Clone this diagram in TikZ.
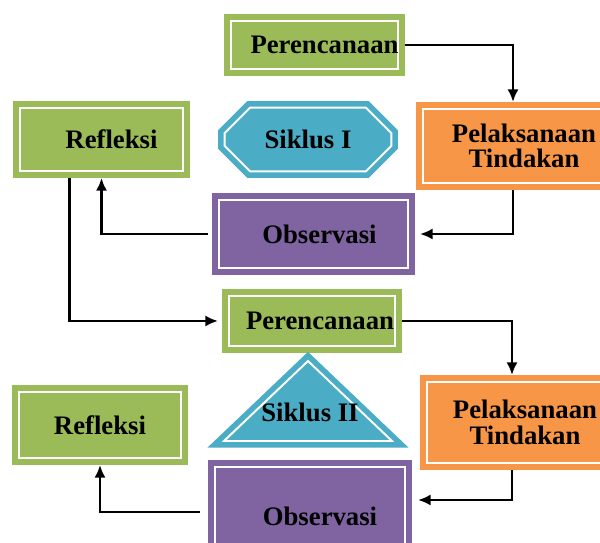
\documentclass[tikz,border=0pt]{standalone}
\usepackage{fontspec}
\setmainfont{Liberation Serif}
\usetikzlibrary{arrows.meta,shapes.misc}
\definecolor{hijau}{HTML}{9BBB59}
\definecolor{oranye}{HTML}{F79646}
\definecolor{ungu}{HTML}{8064A2}
\definecolor{biru}{HTML}{4BACC6}

\begin{document}
\begin{tikzpicture}[x=0.025cm,y=-0.025cm,
    kotak/.style={fill=#1,draw=#1,line width=4pt,double=white,double distance=1.4pt,
      outer sep=4.7pt,inner sep=0pt,align=center,font=\fontsize{19}{18}\selectfont\bfseries},
    >={Latex[length=3.2mm,width=2.8mm]}]
            \clip (0,0) rectangle (600,543);
            \node[kotak=hijau,minimum width=4.14cm,minimum height=1.215cm] (per1) at (314.5,45) {\hspace*{0.5cm}Perencanaan};
            \node[kotak=hijau,minimum width=4.09cm,minimum height=1.59cm] (ref1) at (101.5,139.5) {\hspace*{0.5cm}Refleksi};
            \node[kotak=biru,chamfered rectangle,chamfered rectangle xsep=0.4cm,chamfered rectangle ysep=0.4cm,
              minimum width=4.165cm,minimum height=1.59cm] (sik1) at (308,139.5) {Siklus I};
            \node[kotak=oranye,minimum width=5.065cm,minimum height=1.865cm] (pel1) at (524,146) {Pelaksanaan\\Tindakan};
            \node[kotak=ungu,minimum width=4.74cm,minimum height=1.715cm] (obs1) at (313.5,234) {\hspace*{0.3cm}Observasi};
            \node[kotak=hijau,minimum width=4.165cm,minimum height=1.265cm] (per2) at (312,321) {\hspace*{0.4cm}Perencanaan};
            \node[kotak=hijau,minimum width=4.065cm,minimum height=1.665cm] (ref2) at (100,425) {Refleksi};
            \node[kotak=oranye,minimum width=4.915cm,minimum height=2.04cm] (pel2) at (525,422.5) {Pelaksanaan\\Tindakan};
            \node[kotak=ungu,minimum width=4.765cm,minimum height=2.465cm] (obs2) at (310,516) {\hspace*{0.5cm}Observasi};
            \draw[fill=biru,draw=biru,line width=4pt,double=white,double distance=1.4pt,line join=miter]
              (308,361) -- (392,441) -- (224,441) -- cycle;
            \node[font=\fontsize{19}{18}\selectfont\bfseries] (sik2) at (310,412) {Siklus II};
            \draw[->,line width=2pt] (per1.east) -| ([xshift=-0.275cm]pel1.north);
            \draw[->,line width=2pt] ([xshift=-0.275cm]pel1.south) |- ([xshift=0.125cm]obs1.east);
            \draw[->,line width=2pt] ([xshift=-0.1cm]obs1.west) -| (ref1.south);
            \draw[->,line width=2pt] ([xshift=-0.8cm]ref1.south) |- ([xshift=-0.1cm]per2.west);
            \draw[->,line width=2pt] (per2.east) -| ([xshift=-0.325cm]pel2.north);
            \draw[->,line width=2pt] ([xshift=-0.325cm]pel2.south) |- ([xshift=0.15cm,yshift=0.4cm]obs2.east);
            \draw[->,line width=2pt] ([xshift=-0.2cm,yshift=0.1cm]obs2.west) -| (ref2.south);
          \end{tikzpicture}
\end{document}
